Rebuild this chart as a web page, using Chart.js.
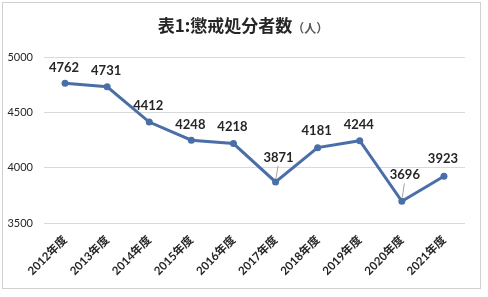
<!DOCTYPE html>
<html>
<head>
<meta charset="utf-8">
<script src="https://cdn.jsdelivr.net/npm/chart.js@4"></script>
<style>
  html, body { margin: 0; padding: 0; background: #fff; }
  #wrap { width: 488px; height: 297px; }
</style>
</head>
<body>
<div id="wrap"><canvas id="grafica" width="488" height="297"></canvas></div>
<script>
// datos
const anios = ['2012年度', '2013年度', '2014年度', '2015年度', '2016年度', '2017年度', '2018年度', '2019年度', '2020年度', '2021年度'];
const sancionados = [4762, 4731, 4412, 4248, 4218, 3871, 4181, 4244, 3696, 3923];
const ticksY = [3500, 4000, 4500, 5000];

const fuente = 'Lato, "Noto Sans CJK JP", sans-serif';
const azul = '#4a6fa8';

// marco y titulo
const marcoTitulo = {
    id: 'marcoTitulo',
    beforeDraw(chart) {
        const c = chart.ctx;
        c.save();
        c.fillStyle = '#fff';
        c.fillRect(0, 0, chart.width, chart.height);
        c.strokeStyle = '#d0d0d0';
        c.lineWidth = 1;
        c.strokeRect(2.5, 2.5, 478, 286);
        c.restore();
    },
    afterDraw(chart) {
        const c = chart.ctx;
        c.save();
        c.textBaseline = 'middle';
        c.font = 'bold 17px "Noto Sans CJK JP", sans-serif';
        const t1 = '表1:懲戒処分者数';
        const t2 = '（人）';
        const w1 = c.measureText(t1).width;
        c.font = 'bold 12px "Noto Sans CJK JP", sans-serif';
        const w2 = c.measureText(t2).width;
        const x0 = 243 - (w1 + w2) / 2;
        c.fillStyle = '#262626';
        c.font = 'bold 17px "Noto Sans CJK JP", sans-serif';
        c.textAlign = 'left';
        c.fillText(t1, x0, 26);
        c.fillStyle = '#595959';
        c.font = 'bold 12px "Noto Sans CJK JP", sans-serif';
        c.fillText(t2, x0 + w1, 28);
        c.restore();
    }
};

// etiquetas de datos, algunas con linea guia
const desplaza = [16, 16, 16, 15, 17, 24, 17, 16, 26, 17];
const etiquetas = {
    id: 'etiquetas',
    afterDatasetsDraw(chart) {
        const c = chart.ctx;
        const meta = chart.getDatasetMeta(0);
        c.save();
        c.font = 'bold 13px ' + fuente;
        c.textAlign = 'center';
        c.textBaseline = 'middle';
        meta.data.forEach((p, i) => {
            const d = desplaza[i];
            const dx = d > 20 ? 3 : -1;
            if (d > 20) {
                c.strokeStyle = '#a6a6a6';
                c.lineWidth = 1;
                c.beginPath();
                c.moveTo(p.x + 0.5, p.y - 4);
                c.lineTo(p.x + 2.5, p.y - d + 8);
                c.stroke();
            }
            c.fillStyle = '#262626';
            c.fillText(String(sancionados[i]), p.x + dx, p.y - d);
        });
        c.restore();
    }
};

const ctx = document.getElementById('grafica').getContext('2d');
new Chart(ctx, {
    type: 'line',
    data: {
        labels: anios,
        datasets: [{
            data: sancionados,
            borderColor: azul,
            backgroundColor: azul,
            borderWidth: 3,
            pointRadius: 3.5,
            pointBorderWidth: 0,
            tension: 0
        }]
    },
    options: {
        responsive: false,
        animation: false,
        layout: { padding: { left: 0, right: 23, top: 57, bottom: 0 } },
        scales: {
            x: {
                offset: true,
                grid: { display: false },
                border: { display: false },
                ticks: {
                    color: '#262626',
                    font: { family: fuente, size: 11.5, weight: 'bold' },
                    minRotation: 45,
                    maxRotation: 45,
                    padding: 2
                },
                afterFit(scale) { scale.height = 74; }
            },
            y: {
                min: 3500,
                max: 5000,
                afterBuildTicks(scale) { scale.ticks = ticksY.map(v => ({ value: v })); },
                grid: { color: '#d9d9d9', drawTicks: false },
                border: { display: false },
                ticks: {
                    color: '#262626',
                    font: { family: fuente, size: 11 },
                    padding: 11,
                    callback: v => String(v)
                },
                afterFit(scale) { scale.width = 44; }
            }
        },
        plugins: {
            legend: { display: false },
            tooltip: { enabled: false }
        }
    },
    plugins: [marcoTitulo, etiquetas]
});
</script>
</body>
</html>
